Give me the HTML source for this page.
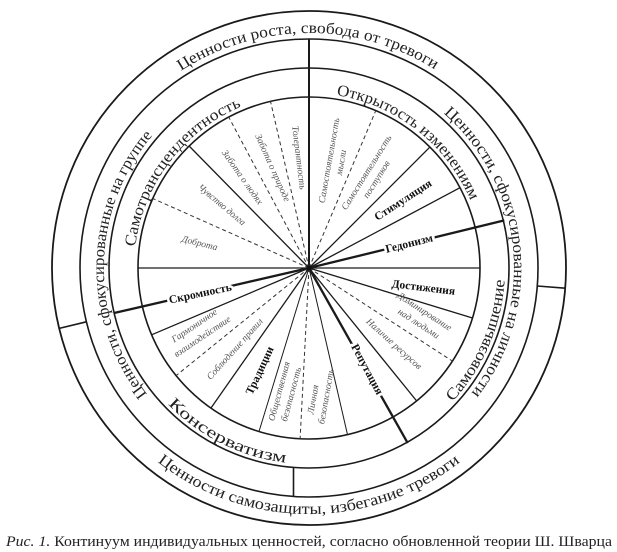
<!DOCTYPE html>
<html><head><meta charset="utf-8"><style>
html,body{margin:0;padding:0;background:#fff;}
svg{display:block;}
text{font-family:"Liberation Serif","DejaVu Serif",serif;fill:#222;}
.it{font-style:italic;font-size:9.5px;fill:#555;}
.bd{font-weight:bold;font-size:11.5px;fill:#111;}
.ring{font-size:16px;fill:#222;}
.mask{stroke:#fff;stroke-width:5;paint-order:stroke;}
</style></head><body>
<svg width="617" height="552" viewBox="0 0 617 552" xmlns="http://www.w3.org/2000/svg">
<defs>
<path id="pTop" d="M181,70.9 A235,235 0 0 1 437,70.9"/>
<path id="pBot" d="M157.5,461.9 A246,246 0 0 0 462.1,460.5"/>
<path id="pLeft" d="M147.3,394.3 A205,205 0 0 1 154.3,133.5"/>
<path id="pRight" d="M443.5,113.3 A205,205 0 0 1 468.3,397"/>
<path id="pST" d="M135.3,246.7 A175,175 0 0 1 243.4,105.7"/>
<path id="pOI" d="M336.4,95.1 A175,175 0 0 1 470,199.6"/>
<path id="pSV" d="M452.4,401.7 A196,196 0 0 0 504.7,278.3"/>
<path id="pK" d="M168,404.2 A196,196 0 0 0 291.9,463.3"/>
</defs>
<g fill="none" stroke="#1a1a1a">
<circle cx="309" cy="268" r="257" stroke-width="1.8"/>
<circle cx="309" cy="268" r="229" stroke-width="1.6"/>
<circle cx="309" cy="268" r="200" stroke-width="1.6"/>
<circle cx="309" cy="268" r="171" stroke-width="1.6"/>
</g>
<g stroke="#1a1a1a" stroke-width="1.3">
<line x1="309" y1="268" x2="309" y2="39" stroke-width="2"/>
<line x1="309" y1="268" x2="189.1" y2="146"/>
<line x1="309" y1="268" x2="138" y2="268"/>
<line x1="309" y1="268" x2="429.9" y2="147.1"/>
<line x1="309" y1="268" x2="460" y2="187.7"/>
<line x1="309" y1="268" x2="480" y2="268"/>
<line x1="309" y1="268" x2="472.5" y2="318"/>
<line x1="309" y1="268" x2="416.6" y2="400.9"/>
<line x1="309" y1="268" x2="347.5" y2="434.6" stroke-width="1"/>
<line x1="309" y1="268" x2="259" y2="431.5" stroke-width="1"/>
<line x1="309" y1="268" x2="210.9" y2="408.1"/>
<line x1="309" y1="268" x2="151.6" y2="334.8"/>
<line x1="309" y1="268" x2="504.3" y2="220.4" stroke-width="2.3"/>
<line x1="309" y1="268" x2="407.7" y2="443.1" stroke-width="2.3"/>
<line x1="309" y1="268" x2="114.1" y2="313" stroke-width="2.3"/>
<line x1="86.4" y1="321.8" x2="59.2" y2="328.4" stroke-width="1.6"/>
<line x1="537.3" y1="286" x2="565.2" y2="288.2" stroke-width="1.6"/>
<line x1="293.5" y1="467.5" x2="293.5" y2="496.4" stroke-width="1.6"/>
</g>
<g stroke="#333" stroke-width="1" stroke-dasharray="4,3">
<line x1="309" y1="268" x2="228.7" y2="117"/>
<line x1="309" y1="268" x2="270.5" y2="101.4"/>
<line x1="309" y1="268" x2="152.8" y2="198.5"/>
<line x1="309" y1="268" x2="375.8" y2="110.6"/>
<line x1="309" y1="268" x2="452.4" y2="361.1"/>
<line x1="309" y1="268" x2="300.1" y2="438.8"/>
<line x1="309" y1="268" x2="176.1" y2="375.6"/>
</g>
<circle cx="309" cy="268" r="2.5" fill="#111"/>

<text class="ring"><textPath href="#pTop" textLength="268" lengthAdjust="spacingAndGlyphs">Ценности роста, свобода от тревоги</textPath></text>
<text class="ring"><textPath href="#pBot" textLength="326" lengthAdjust="spacingAndGlyphs">Ценности самозащиты, избегание тревоги</textPath></text>
<text class="ring"><textPath href="#pLeft" textLength="280" lengthAdjust="spacingAndGlyphs">Ценности, сфокусированные на группе</textPath></text>
<text class="ring"><textPath href="#pRight" textLength="310" lengthAdjust="spacingAndGlyphs">Ценности, сфокусированные на личности</textPath></text>
<text class="ring"><textPath href="#pST" textLength="184" lengthAdjust="spacingAndGlyphs">Самотрансцендентность</textPath></text>
<text class="ring"><textPath href="#pOI" textLength="178" lengthAdjust="spacingAndGlyphs">Открытость изменениям</textPath></text>
<text class="ring"><textPath href="#pSV" textLength="135" lengthAdjust="spacingAndGlyphs">Самовозвышение</textPath></text>
<text class="ring"><textPath href="#pK" textLength="134" lengthAdjust="spacingAndGlyphs">Консерватизм</textPath></text>

<g text-anchor="middle">
<text class="it" transform="translate(199,246) rotate(14)">Доброта</text>
<text class="it" transform="translate(220,207) rotate(40)">Чувство долга</text>
<text class="it" transform="translate(240,179) rotate(55)">Забота о людях</text>
<text class="it" transform="translate(270,169) rotate(66)">Забота о природе</text>
<text class="it" transform="translate(296,158) rotate(83)">Толерантность</text>
<text class="it" transform="translate(332,161) rotate(-80)">Самостоятельность</text>
<text class="it" transform="translate(344,163) rotate(-80)">мысли</text>
<text class="it" transform="translate(369,174) rotate(-58)">Самостоятельность</text>
<text class="it" transform="translate(379,181) rotate(-58)">поступков</text>
<text class="bd" transform="translate(405,203) rotate(-33)">Стимуляция</text>
<text class="bd mask" transform="translate(410,247) rotate(-14)">Гедонизм</text>
<text class="bd" transform="translate(423,291) rotate(7)">Достижения</text>
<text class="it" transform="translate(423,314) rotate(33)">Доминирование</text>
<text class="it" transform="translate(417,326) rotate(33)">над людьми</text>
<text class="it" transform="translate(392,346) rotate(42)">Наличие ресурсов</text>
<text class="bd mask" transform="translate(364,371) rotate(62)">Репутация</text>
<text class="it" transform="translate(316,400) rotate(-80)">Личная</text>
<text class="it" transform="translate(329,397) rotate(-80)">безопасность</text>
<text class="it" transform="translate(282,392) rotate(-75)">Общественная</text>
<text class="it" transform="translate(294,395) rotate(-75)">безопасность</text>
<text class="bd" transform="translate(263,372) rotate(-65)">Традиции</text>
<text class="it" transform="translate(237,351) rotate(-48)">Соблюдение правил</text>
<text class="it" transform="translate(196,328) rotate(-34)">Гармоничное</text>
<text class="it" transform="translate(204,339) rotate(-34)">взаимодействие</text>
<text class="bd mask" transform="translate(201,297) rotate(-12)">Скромность</text>
</g>

<text x="6" y="546" font-size="15" textLength="606" lengthAdjust="spacingAndGlyphs"><tspan font-style="italic">Рис. 1.</tspan> Континуум индивидуальных ценностей, согласно обновленной теории Ш. Шварца</text>
</svg>
</body></html>
